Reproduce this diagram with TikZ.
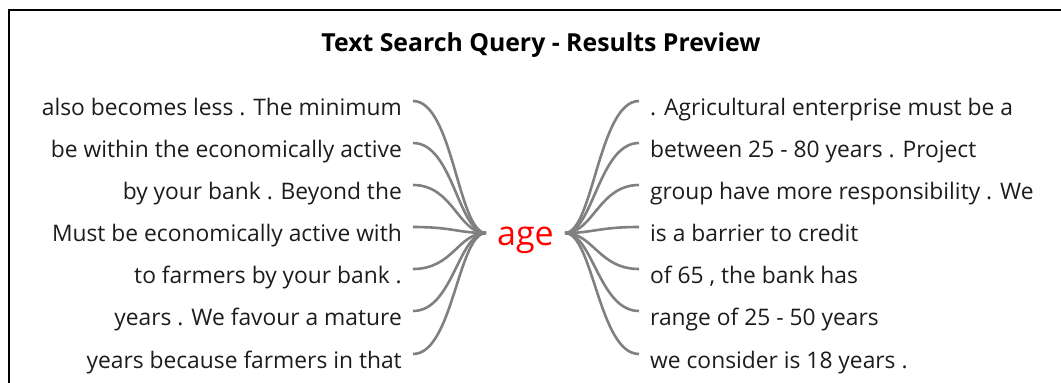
\documentclass[tikz,border=0pt]{standalone}
\usepackage{fontspec}
\setmainfont{Open Sans}
\definecolor{textc}{HTML}{1C1C1C}
\definecolor{linkc}{HTML}{808080}
\begin{document}
\begin{tikzpicture}[x=1pt,y=-1pt,
  txt/.style={font=\fontsize{22.8}{26}\selectfont, text=textc, inner ysep=0pt, inner xsep=11pt},
  ltxt/.style={txt, anchor=base east},
  rtxt/.style={txt, anchor=base west},
  link/.style={draw=linkc, line width=2.6pt}]
\useasboundingbox (0,0) rectangle (1061,383);
\draw[line width=2pt] (9,400) -- (9,10) -- (1075,10);
\node[font=\bfseries\fontsize{24.8}{28}\selectfont, text=black] (title) at (541,45.5) {Text Search Query - Results Preview};
\node[text=red, font=\fontsize{34}{38}\selectfont, anchor=base, inner ysep=0pt, inner xsep=11pt] (age) at (525.5,245) {age};
\node[ltxt] (L1) at (413,115) {also becomes less . The minimum};
\node[ltxt] (L2) at (413,157) {be within the economically active};
\node[ltxt] (L3) at (413,199) {by your bank . Beyond the};
\node[ltxt] (L4) at (413,241) {Must be economically active with};
\node[ltxt] (L5) at (413,283) {to farmers by your bank .};
\node[ltxt] (L6) at (413,325) {years . We favour a mature};
\node[ltxt] (L7) at (413,368) {years because farmers in that};
\node[rtxt] (R1) at (639,115) {. Agricultural enterprise must be a};
\node[rtxt] (R2) at (639,157) {between 25 - 80 years . Project};
\node[rtxt] (R3) at (639,199) {group have more responsibility . We};
\node[rtxt] (R4) at (639,241) {is a barrier to credit};
\node[rtxt] (R5) at (639,283) {of 65 , the bank has};
\node[rtxt] (R6) at (639,325) {range of 25 - 50 years};
\node[rtxt] (R7) at (639,368) {we consider is 18 years .};
\foreach \i in {1,...,7}{
  \draw[link] ([yshift=14pt]L\i.base east) .. controls +(40,0) and +(-28,0) .. ([yshift=12pt]age.base west);
  \draw[link] ([yshift=14pt]R\i.base west) .. controls +(-40,0) and +(28,0) .. ([yshift=12pt]age.base east);
}
\end{tikzpicture}
\end{document}
